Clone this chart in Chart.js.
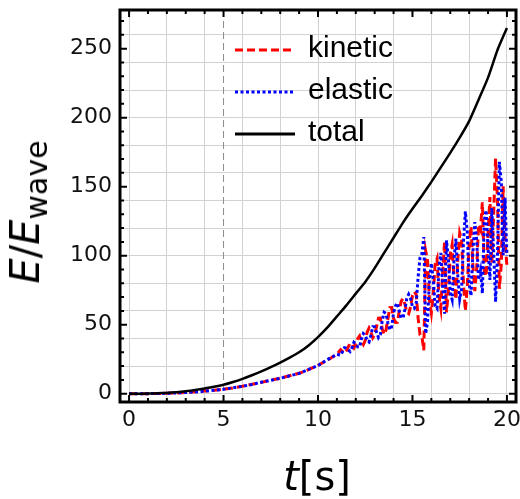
<!DOCTYPE html>
<html>
<head>
<meta charset="utf-8">
<script src="https://cdn.jsdelivr.net/npm/chart.js@4.4.1/dist/chart.umd.min.js"></script>
<style>
  html, body { margin: 0; padding: 0; background: #fff; }
  #wrap { position: relative; width: 520px; height: 499px; overflow: hidden; }
  #chart { position: absolute; left: 0; top: 0; }
  .ytitle {
    position: absolute; left: 25px; top: 212px;
    transform: translate(-50%, -50%) rotate(-90deg);
    font-family: "DejaVu Sans"; font-size: 40px; line-height: 1; white-space: nowrap; color: #000;
  }
  .ytitle sub { font-size: 30px; font-style: normal; vertical-align: -0.28em; line-height: 0; }
  .xtitle {
    position: absolute; left: 317px; top: 456px; transform: translateX(-50%);
    font-family: "DejaVu Sans"; font-size: 40px; line-height: 1; white-space: nowrap; color: #000;
  }
  .legend { position: absolute; left: 234px; top: 26px; font-family: "Liberation Sans", Arial, sans-serif; font-size: 30px; color: #000; }
  .legend .row { display: flex; align-items: center; height: 42px; }
  .legend svg { width: 62px; height: 10px; margin-right: 12px; margin-top: 6px; }
</style>
</head>
<body>
<div id="wrap">
  <canvas id="chart" width="520" height="499"></canvas>
  <div class="ytitle"><i>E</i>/<i>E</i><sub>wave</sub></div>
  <div class="xtitle"><i>t</i>[s]</div>
  <div class="legend">
    <div class="row"><svg viewBox="0 0 62 10"><line x1="1" y1="5" x2="61" y2="5" stroke="#ff0000" stroke-width="3" stroke-dasharray="8,4"/></svg><span>kinetic</span></div>
    <div class="row"><svg viewBox="0 0 62 10"><line x1="1" y1="5" x2="61" y2="5" stroke="#0000ff" stroke-width="3" stroke-dasharray="3,2.5"/></svg><span>elastic</span></div>
    <div class="row"><svg viewBox="0 0 62 10"><line x1="1" y1="5" x2="61" y2="5" stroke="#000" stroke-width="3"/></svg><span>total</span></div>
  </div>
</div>
<script>
// ---------------------------------------------------------------------------
// Daten
// ---------------------------------------------------------------------------
const xMin = -0.48, xMax = 20.48;
const yMin = -6, yMax = 278;
const markerT = 5;            // gestrichelte Linie bei t = 5 s

// total: Zeitpunkte und Werte
const totalT = [0,0.5,1,1.5,2,2.5,3,3.5,4,4.5,5,5.5,6,6.5,7,7.5,8,8.5,9,9.5,10,
                10.5,11,11.5,12,12.5,13,13.5,14,14.5,15,15.5,16,16.5,17,17.5,18,18.5,19,19.5,20];
const totalE = [0,0,0.1,0.3,0.6,1.1,1.8,2.7,3.8,5.0,6.5,8.5,10.8,13.4,16.2,19.2,22.5,26.1,30,35,41,
                48,56,64,72.5,81,91,102,113,124,134,143.5,153.5,164,174.5,185.5,197.5,213,229,249,265];

// kinetic / elastic: grob bis 10.5 s, dann fein (0.1 s)
const waveT = [0,0.5,1,1.5,2,2.5,3,3.5,4,4.5,5,5.5,6,6.5,7,7.5,8,8.5,9,9.5,10,10.5,
  11.0,11.1,11.2,11.3,11.4,11.5,11.6,11.7,11.8,11.9,
  12.0,12.1,12.2,12.3,12.4,12.5,12.6,12.7,12.8,12.9,
  13.0,13.1,13.2,13.3,13.4,13.5,13.6,13.7,13.8,13.9,
  14.0,14.1,14.2,14.3,14.4,14.5,14.6,14.7,14.8,14.9,
  15.0,15.1,15.2,15.3,15.4,15.5,15.6,15.7,15.8,15.9,
  16.0,16.1,16.2,16.3,16.4,16.5,16.6,16.7,16.8,16.9,
  17.0,17.1,17.2,17.3,17.4,17.5,17.6,17.7,17.8,17.9,
  18.0,18.1,18.2,18.3,18.4,18.5,18.6,18.7,18.8,18.9,
  19.0,19.1,19.2,19.3,19.4,19.5,19.6,19.7,19.8,19.9,20.0];

const kineticE = [0,0,0.05,0.15,0.3,0.55,0.9,1.4,1.9,2.5,3.3,4.2,5.4,6.8,8.2,9.8,11.3,13,14.8,17.4,20.6,24.3,
  28.5,30.2,31.9,30.6,29.3,31,33.8,36.6,35.4,33.2,
  36,39.9,41.8,37.7,35.6,38.5,44.5,47.5,44.5,40.5,
  42.5,48.6,54.7,54.8,46.9,43,46.1,54.2,62.3,62.4,
  54.5,51.6,51.7,59.8,66.9,69,65,59,58,63,
  71,73.9,71.8,54.7,42.6,41.5,31.5,103.5,96.5,67.5,
  58.5,72.6,93.7,97.8,70.9,62,88,110,59,74,
  101,108.1,81.2,68.3,97.4,116.5,111.7,79.9,60.1,77.3,
  109.5,121,92.7,74.3,90.9,122.5,119,138.7,89.3,85,
  115.5,142.5,94.5,131.5,170.5,140.5,76,93.7,150.3,112,92];

const elasticE = [0,0,0.05,0.15,0.3,0.55,0.9,1.3,1.9,2.5,3.2,4.3,5.4,6.7,8.3,9.7,11.2,13,14.7,17.6,20.4,24.7,
  28.5,28.2,27.9,30.6,33.3,33,31.8,30.6,33.4,37.2,
  36,33.9,33.8,39.7,43.6,42.5,38.5,37.5,42.5,48.5,
  48.5,44.6,40.7,42.8,52.9,59,58.1,51.2,46.3,48.4,
  58.5,63.6,65.7,59.8,54.9,55,61,69,72,69,
  63,61.9,65.8,84.7,98.6,101.5,113.5,43.5,52.5,83.5,
  94.5,82.6,63.7,61.8,90.9,102,78,58,111,98,
  73,68.1,97.2,112.3,85.4,68.5,75.7,109.9,132.1,117.3,
  79.5,71,102.7,124.3,110.9,82.5,89,72.7,125.3,133,
  105.5,82.5,134.5,101.5,66.5,100.5,168,153.7,100.3,142,100];

// Achsen-Beschriftung
const xLabelStep = 5, xGridStep = 2;
const yLabelStep = 50, yGridStep = 20, yMinorStep = 10;

// ---------------------------------------------------------------------------
// Hilfsfunktionen
// ---------------------------------------------------------------------------
function toPoints(xs, ys) {
    return xs.map((x, i) => ({ x: x, y: ys[i] }));
}
function isMultiple(v, step) {
    return Math.abs(v / step - Math.round(v / step)) < 1e-6;
}

// Rahmen + Ticks nach innen (Mathematica-Stil)
const framePlugin = {
    id: "frame",
    afterDatasetsDraw(chart) {
        const { ctx, chartArea: a, scales } = chart;
        const x = scales.x, y = scales.y;
        ctx.save();
        ctx.strokeStyle = "#000";
        ctx.lineWidth = 2;
        ctx.beginPath();
        for (let v = 0; v <= 20; v++) {
            const px = x.getPixelForValue(v);
            const len = isMultiple(v, xLabelStep) ? 7 : 4;
            ctx.moveTo(px, a.bottom); ctx.lineTo(px, a.bottom - len);
            ctx.moveTo(px, a.top); ctx.lineTo(px, a.top + len);
        }
        for (let v = 0; v <= 270; v += yMinorStep) {
            const py = y.getPixelForValue(v);
            const len = isMultiple(v, yLabelStep) ? 7 : 4;
            ctx.moveTo(a.left, py); ctx.lineTo(a.left + len, py);
            ctx.moveTo(a.right, py); ctx.lineTo(a.right - len, py);
        }
        ctx.stroke();
        ctx.lineWidth = 3;
        ctx.strokeRect(a.left, a.top, a.right - a.left, a.bottom - a.top);
        ctx.restore();
    }
};

// ---------------------------------------------------------------------------
// Chart
// ---------------------------------------------------------------------------
const tickFont = { family: "DejaVu Sans", size: 22 };

new Chart(document.getElementById("chart"), {
    type: "line",
    data: {
        datasets: [
            {
                label: "total",
                data: toPoints(totalT, totalE),
                borderColor: "#000",
                borderWidth: 2.5,
                pointRadius: 0,
                tension: 0.2,
                order: 0
            },
            {
                label: "elastic",
                data: toPoints(waveT, elasticE),
                borderColor: "#0000ff",
                borderWidth: 3,
                borderDash: [3, 2.5],
                pointRadius: 0,
                order: 1
            },
            {
                label: "kinetic",
                data: toPoints(waveT, kineticE),
                borderColor: "#ff0000",
                borderWidth: 3,
                borderDash: [8, 4],
                pointRadius: 0,
                order: 2
            },
            {
                label: "marker",
                data: [{ x: markerT, y: yMin }, { x: markerT, y: yMax }],
                borderColor: "#8c8c8c",
                borderWidth: 1,
                borderDash: [7, 4],
                pointRadius: 0,
                order: 3
            }
        ]
    },
    options: {
        responsive: false,
        animation: false,
        layout: { padding: { left: 0, top: 10, right: 4, bottom: 0 } },
        plugins: { legend: { display: false }, tooltip: { enabled: false } },
        scales: {
            x: {
                type: "linear",
                min: xMin, max: xMax,
                afterFit(s) { s.height = 97; s.paddingLeft = 0; s.paddingRight = 0; },
                border: { display: false },
                grid: {
                    drawTicks: false,
                    lineWidth: 1,
                    color: c => (c.tick && isMultiple(c.tick.value, xGridStep) ? "#d2d2d2" : "rgba(0,0,0,0)")
                },
                ticks: {
                    stepSize: 1, autoSkip: false, includeBounds: false, maxRotation: 0, padding: 5,
                    color: "#111", font: tickFont,
                    callback: v => (isMultiple(v, xLabelStep) ? String(v) : "")
                }
            },
            y: {
                min: yMin, max: yMax,
                afterFit(s) { s.width = 120; s.paddingTop = 0; s.paddingBottom = 0; },
                border: { display: false },
                grid: {
                    drawTicks: false,
                    lineWidth: 1,
                    color: c => (c.tick && isMultiple(c.tick.value, yGridStep) ? "#d2d2d2" : "rgba(0,0,0,0)")
                },
                ticks: {
                    stepSize: 10, autoSkip: false, includeBounds: false, padding: 8,
                    color: "#111", font: tickFont,
                    callback: v => (isMultiple(v, yLabelStep) ? String(v) : "")
                }
            }
        }
    },
    plugins: [framePlugin]
});
</script>
</body>
</html>
